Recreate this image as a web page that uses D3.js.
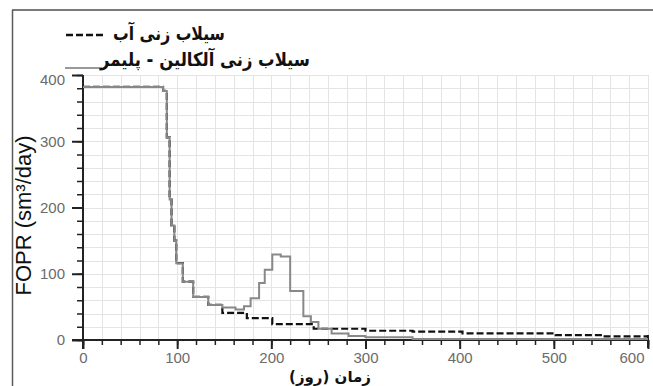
<!DOCTYPE html>
<html>
<head>
<meta charset="utf-8">
<script src="https://cdn.jsdelivr.net/npm/d3@7"></script>
<style>
  body { margin: 0; background: #fff; }
  svg { display: block; }
</style>
</head>
<body>
<div id="chart"></div>
<script>
// step series: day where each step starts, and its rate
const polymerDays   = [0, 85, 89, 92, 94, 97, 99, 106, 117, 133, 148, 162, 171, 178, 187, 193, 201, 210, 220, 234, 242, 250, 264, 282, 300, 350, 600];
const polymerValues = [382, 376, 306, 212, 173, 150, 116, 88, 65, 53, 49, 46, 51, 63, 86, 106, 129, 126, 74, 36, 27, 17, 10, 6, 4, 1.5, 1.5];

const waterDays   = [0, 85, 89, 92, 94, 97, 99, 106, 117, 133, 148, 174, 201, 245, 300, 350, 403, 502, 552, 600];
const waterValues = [382, 376, 306, 212, 173, 150, 116, 88, 65, 53, 41, 33, 24, 17, 14, 12.5, 10, 7.5, 5.5, 5.5];

const xTicks = [0, 100, 200, 300, 400, 500, 600];
const yTicks = [0, 100, 200, 300, 400];

const legendLabels = ['سیلاب زنی آب', 'سیلاب زنی آلکالین - پلیمر'];
const xTitle = 'زمان (روز)';
const yTitle = 'FOPR (sm³/day)';

const width = 653, height = 386;
const margin = { top: 75, right: 5, bottom: 46, left: 83 };

const svg = d3.select('#chart').append('svg')
    .attr('width', width)
    .attr('height', height);

// outer frame (only top and left edges show)
svg.append('line').attr('x1', 12).attr('x2', width).attr('y1', 10).attr('y2', 10)
    .attr('stroke', '#7a7a7a').attr('stroke-width', 2);
svg.append('line').attr('x1', 12.5).attr('x2', 12.5).attr('y1', 10).attr('y2', height)
    .attr('stroke', '#5a5a5a').attr('stroke-width', 1.5);

const x = d3.scaleLinear().domain([0, 600]).range([margin.left, width - margin.right]);
const y = d3.scaleLinear().domain([0, 400]).range([height - margin.bottom, margin.top]);

// light grid every 20 units
const grid = svg.append('g').attr('stroke', '#e4e4e4').attr('stroke-width', 1);
grid.selectAll('.gx').data(d3.range(20, 601, 20)).enter().append('line')
    .attr('x1', d => Math.round(x(d)) + 0.5).attr('x2', d => Math.round(x(d)) + 0.5)
    .attr('y1', y(400)).attr('y2', y(0));
grid.selectAll('.gy').data(d3.range(20, 401, 20)).enter().append('line')
    .attr('x1', x(0)).attr('x2', x(600))
    .attr('y1', d => Math.round(y(d)) + 0.5).attr('y2', d => Math.round(y(d)) + 0.5);

// axes: major ticks with labels, minor ticks every 20
const tickColor = '#222';
const labelColor = '#6b6b6b';
const labelFont = 'Liberation Sans, Arial, sans-serif';

const yAxis = svg.append('g').attr('transform', `translate(${x(0)},0)`);
yAxis.call(d3.axisLeft(y).tickValues(d3.range(0, 401, 20)).tickSize(6).tickFormat(''));
yAxis.call(g => g.selectAll('.tick line').attr('stroke', tickColor).attr('stroke-width', 1.5));
yAxis.call(g => g.select('.domain').remove());
const yMajor = svg.append('g').attr('transform', `translate(${x(0)},0)`)
    .call(d3.axisLeft(y).tickValues(yTicks).tickSize(11).tickPadding(7));
yMajor.select('.domain').remove();
yMajor.selectAll('.tick line').attr('stroke', tickColor).attr('stroke-width', 2);
yMajor.selectAll('.tick text').attr('fill', labelColor)
    .style('font-family', labelFont).style('font-size', '15px');
yMajor.selectAll('.tick').filter(d => d === 400).select('text').attr('dy', '0.62em');

const xAxis = svg.append('g').attr('transform', `translate(0,${y(0)})`);
xAxis.call(d3.axisBottom(x).tickValues(d3.range(0, 601, 20)).tickSize(5).tickFormat(''));
xAxis.call(g => g.selectAll('.tick line').attr('stroke', tickColor).attr('stroke-width', 1.5));
xAxis.call(g => g.select('.domain').remove());
const xMajor = svg.append('g').attr('transform', `translate(0,${y(0)})`)
    .call(d3.axisBottom(x).tickValues(xTicks).tickSize(9).tickPadding(3));
xMajor.select('.domain').remove();
xMajor.selectAll('.tick line').attr('stroke', tickColor).attr('stroke-width', 2);
xMajor.selectAll('.tick text').attr('fill', labelColor)
    .style('font-family', labelFont).style('font-size', '15px');
// last label sits left of its tick so it stays inside the picture
xMajor.selectAll('.tick').filter(d => d === 600).select('text')
    .attr('text-anchor', 'end').attr('x', -4);

// axis lines
svg.append('line').attr('x1', x(0)).attr('x2', x(0)).attr('y1', y(400)).attr('y2', y(0) + 9)
    .attr('stroke', tickColor).attr('stroke-width', 2);
svg.append('line').attr('x1', x(0) - 11).attr('x2', x(600)).attr('y1', y(0)).attr('y2', y(0))
    .attr('stroke', tickColor).attr('stroke-width', 2);
svg.append('line').attr('x1', x(600)).attr('x2', x(600)).attr('y1', y(0) - 5).attr('y2', y(0) + 8)
    .attr('stroke', tickColor).attr('stroke-width', 2);

// series
const line = d3.line()
    .x(d => x(d[0]))
    .y(d => y(d[1]))
    .curve(d3.curveStepAfter);

const waterData = d3.zip(waterDays, waterValues);
const polymerData = d3.zip(polymerDays, polymerValues);

svg.append('path').datum(waterData)
    .attr('d', line)
    .attr('fill', 'none')
    .attr('stroke', '#111')
    .attr('stroke-width', 2.2)
    .attr('stroke-dasharray', '7,3');

svg.append('path').datum(polymerData)
    .attr('d', line)
    .attr('fill', 'none')
    .attr('stroke', '#888')
    .attr('stroke-width', 2);

// legend
const legendFont = 'DejaVu Sans, sans-serif';
svg.append('line').attr('x1', 66).attr('x2', 103).attr('y1', 35).attr('y2', 35)
    .attr('stroke', '#111').attr('stroke-width', 2.5).attr('stroke-dasharray', '7,3');
svg.append('text').attr('x', 225).attr('y', 40)
    .attr('text-anchor', 'end')
    .attr('textLength', 112).attr('lengthAdjust', 'spacingAndGlyphs')
    .style('font-family', legendFont).style('font-weight', 'bold').style('font-size', '19px')
    .attr('fill', '#111')
    .text(legendLabels[0]);

svg.append('line').attr('x1', 65).attr('x2', 102).attr('y1', 68).attr('y2', 68)
    .attr('stroke', '#999').attr('stroke-width', 2);
svg.append('text').attr('x', 310).attr('y', 66)
    .attr('text-anchor', 'end')
    .attr('textLength', 210).attr('lengthAdjust', 'spacingAndGlyphs')
    .style('font-family', legendFont).style('font-weight', 'bold').style('font-size', '19px')
    .attr('fill', '#111')
    .text(legendLabels[1]);

// axis titles
svg.append('text')
    .attr('transform', `translate(31,${(y(0) + y(400)) / 2 + 8}) rotate(-90)`)
    .attr('text-anchor', 'middle')
    .style('font-family', labelFont).style('font-size', '22px')
    .attr('fill', '#111')
    .text(yTitle);

svg.append('text').attr('x', 330).attr('y', 382)
    .attr('text-anchor', 'middle')
    .style('font-family', legendFont).style('font-weight', 'bold').style('font-size', '15px')
    .attr('fill', '#111')
    .text(xTitle);
</script>
</body>
</html>
